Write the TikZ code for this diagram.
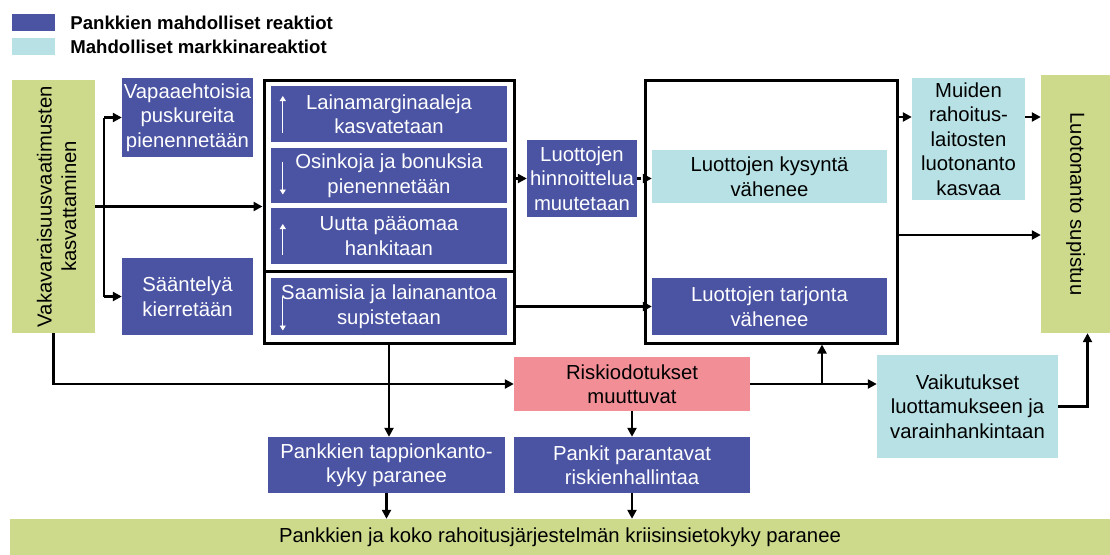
\documentclass[tikz,border=0pt]{standalone}
\usepackage{fontspec}
\setmainfont{Liberation Sans}
\usepackage{tikz}
\usetikzlibrary{arrows.meta, positioning, calc}
\definecolor{bankblue}{RGB}{75,84,163}
\definecolor{marketcyan}{RGB}{183,225,228}
\definecolor{reqgreen}{RGB}{205,218,140}
\definecolor{riskpink}{RGB}{242,143,150}
\tikzset{
    flow/.style={font=\fontsize{20.3}{24.5}\selectfont},
    flow box/.style={align=center, inner sep=0pt},
    bank box/.style={flow box, fill=bankblue, text=white},
    market box/.style={flow box, fill=marketcyan, text=black},
    green box/.style={flow box, fill=reqgreen, text=black},
    risk box/.style={flow box, fill=riskpink, text=black},
    frame box/.style={draw, line width=3pt, inner sep=0pt},
    legend text/.style={font=\fontsize{18.6}{22}\selectfont\bfseries, inner sep=0pt, anchor=west},
    flow arrow/.style={-{Triangle[length=9pt,width=9pt]}, line width=2.5pt},
    flow dashed arrow/.style={flow arrow, dash pattern=on 4pt off 3pt},
    flow line/.style={line width=2.5pt},
    small arrow/.style={-{Triangle[length=5pt,width=6pt]}, white, line width=0.9pt},
}

\begin{document}
\begin{tikzpicture}[flow, x=1pt, y=-1pt]
  \useasboundingbox (0,0) rectangle (1110,554);
  % legend
  \node[bank box, minimum width=43pt, minimum height=17pt] (legbank) at (33.5,22.5) {};
  \node[market box, minimum width=43pt, minimum height=17pt] (legmarket) at (33.5,46.5) {};
  \node[legend text, right=15pt of legbank] (legbanktext) {Pankkien mahdolliset reaktiot};
  \node[legend text, right=15pt of legmarket] (legmarkettext) {Mahdolliset markkinareaktiot};

  % requirement and first reactions
  \node[green box, minimum width=83pt, minimum height=253pt] (req) at (53.5,206.5) {};
  \node[rotate=90, align=center, inner sep=0pt] (reqtext) at ([xshift=3pt]req.center) {Vakavaraisuusvaatimusten\\kasvattaminen};
  \node[bank box, minimum width=131pt, minimum height=79pt] (buffers) at (187.5,117.5) {Vapaaehtoisia\\puskureita\\pienennetään};
  \node[bank box, minimum width=131pt, minimum height=77pt] (evade) at (187.5,296.5) {Sääntelyä\\kierretään};

  % bank reactions
  \node[frame box, minimum width=250pt, minimum height=263pt] (banks) at (389,211.5) {};
  \node[bank box, minimum width=236pt, minimum height=56pt] (margins) at (389,114) {Lainamarginaaleja\\kasvatetaan};
  \node[bank box, minimum width=236pt, minimum height=55pt] (dividends) at (389,175.5) {Osinkoja ja bonuksia\\pienennetään};
  \node[bank box, minimum width=236pt, minimum height=56pt] (capital) at (389,236) {Uutta pääomaa\\hankitaan};
  \node[bank box, minimum width=236pt, minimum height=57pt] (lending) at (389,306.5) {Saamisia ja lainanantoa\\supistetaan};
  \draw[line width=3pt] (banks.west |- {$(capital.south)!0.5!(lending.north)$}) -- (banks.east |- {$(capital.south)!0.5!(lending.north)$});
  \draw[small arrow] ([xshift=12pt,yshift=-19pt]margins.west) -- ([xshift=12pt,yshift=18pt]margins.west);
  \draw[small arrow] ([xshift=12pt,yshift=14pt]dividends.west) -- ([xshift=12pt,yshift=-19pt]dividends.west);
  \draw[small arrow] ([xshift=12pt,yshift=-19pt]capital.west) -- ([xshift=12pt,yshift=12pt]capital.west);
  \draw[small arrow] ([xshift=12pt,yshift=10pt]lending.west) -- ([xshift=12pt,yshift=-24pt]lending.west);

  \node[bank box, minimum width=110pt, minimum height=77pt] (pricing) at (582,178.5) {Luottojen\\hinnoittelua\\muutetaan};

  % credit market
  \node[frame box, minimum width=252pt, minimum height=263pt] (market) at (771,211.5) {};
  \node[market box, minimum width=235pt, minimum height=53pt] (demand) at (769.5,176.5) {Luottojen kysyntä\\vähenee};
  \node[bank box, minimum width=235pt, minimum height=57pt] (supply) at (769.5,306.5) {Luottojen tarjonta\\vähenee};
  \node[market box, minimum width=113pt, minimum height=122pt] (others) at (968.5,139) {Muiden\\rahoitus-\\laitosten\\luotonanto\\kasvaa};
  \node[green box, minimum width=69pt, minimum height=258pt] (credit) at (1075.5,204) {};
  \node[rotate=-90, inner sep=0pt] (credittext) at (credit.center) {Luotonanto supistuu};

  % risks and resilience
  \node[risk box, minimum width=236pt, minimum height=54pt] (risk) at (632,384) {Riskiodotukset\\muuttuvat};
  \node[market box, minimum width=181pt, minimum height=103pt] (trust) at (967.5,406.5) {Vaikutukset\\luottamukseen ja\\varainhankintaan};
  \node[bank box, minimum width=237pt, minimum height=56pt] (loss) at (386.5,465) {Pankkien tappionkanto-\\kyky paranee};
  \node[bank box, minimum width=236pt, minimum height=56pt] (riskmgmt) at (632,465) {Pankit parantavat\\riskienhallintaa};
  \node[green box, minimum width=1100pt, minimum height=37pt] (resilience) at (560,537.5) {Pankkien ja koko rahoitusjärjestelmän kriisinsietokyky paranee};

  % helper points
  \coordinate (fork) at ([xshift=9pt]req.east);
  \coordinate (others in) at ([yshift=22pt]others.west);
  \coordinate (credit in) at ([yshift=-31pt]credit.west);
  \coordinate (credit foot) at ([xshift=12pt]credit.south);
  \coordinate (market foot) at ([xshift=51pt]market.south);

  % connectors
  \draw[flow arrow] (req.east) -- (req.east -| banks.west);
  \draw[flow line] (fork |- buffers.west) -- (fork |- evade.west);
  \draw[flow arrow] (fork |- buffers.west) -- (buffers.west);
  \draw[flow arrow] (fork |- evade.west) -- (evade.west);
  \draw[flow arrow] (banks.east |- pricing.west) -- (pricing.west);
  \draw[flow dashed arrow] (pricing.east) -- (pricing.east -| demand.west);
  \draw[flow arrow] (banks.east |- lending.east) -- (lending.east -| supply.west);
  \draw[flow arrow] (market.east |- others in) -- (others in);
  \draw[flow arrow] (others.east |- others in) -- (credit.west |- others in);
  \draw[flow arrow] (market.east |- credit in) -- (credit in);
  \draw[flow arrow] (trust.east) -| (credit foot);
  \draw[flow arrow] (req.south) |- (risk.west);
  \draw[flow arrow] (risk.east) -- (risk.east -| trust.west);
  \draw[flow arrow] (risk.east -| market foot) -- (market foot);
  \draw[flow arrow] (banks.south) -- (banks.south |- loss.north);
  \draw[flow arrow] (risk.south) -- (riskmgmt.north);
  \draw[flow arrow] (loss.south) -- (loss.south |- resilience.north);
  \draw[flow arrow] (riskmgmt.south) -- (riskmgmt.south |- resilience.north);
\end{tikzpicture}
\end{document}
